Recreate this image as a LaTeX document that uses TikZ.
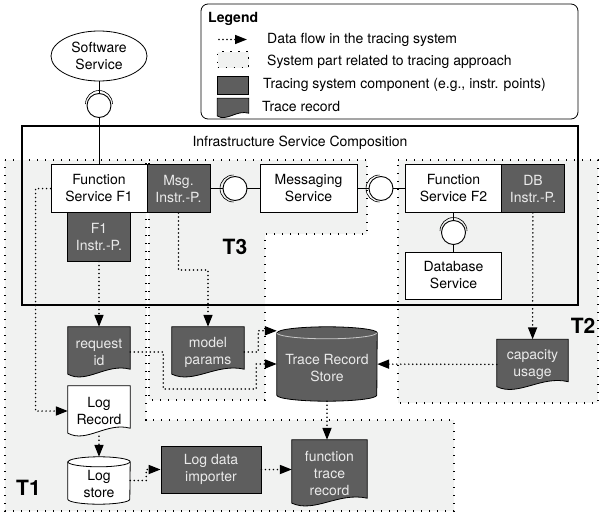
\documentclass[tikz,border=0pt]{standalone}
\usepackage{fontspec}
\setmainfont{TeX Gyre Heros}
\usetikzlibrary{arrows.meta,calc,shapes.geometric}
\pgfdeclarelayer{zones}
\pgfdeclarelayer{forms}
\pgfsetlayers{zones,forms,main}

\definecolor{recdark}{HTML}{5E5E5E}
\definecolor{reclight}{HTML}{EAEAEA}
\definecolor{rimline}{HTML}{C8C8C8}
\definecolor{zonefill}{HTML}{F1F2F1}

% document outline with a wavy lower edge around node #1
\newcommand\docform[3]{%
  \draw[#2] (#1.north west) -- (#1.north east) -- ($(#1.south east)+(0,-#3)$)
    .. controls ($(#1.south west)!0.62!(#1.south east)+(0,-1.8*#3)$)
    and ($(#1.south west)!0.3!(#1.south east)+(0,0.9*#3)$)
    .. ($(#1.south west)+(0,-0.38*#3)$) -- cycle;}

% upright cylinder around node #1: half width #2, end radius #3, rim colour #5
\newcommand\cylform[5]{%
  \draw[#4] ($(#1.north west)+(0,#3)$) -- ($(#1.south west)+(0,-#3)$)
    arc[start angle=180,end angle=360,x radius=#2pt,y radius=#3pt]
    -- ($(#1.north east)+(0,#3)$)
    arc[start angle=0,end angle=180,x radius=#2pt,y radius=#3pt] -- cycle;
  \draw[line width=0.8pt,draw=#5] ($(#1.north west)+(0,#3)$)
    arc[start angle=180,end angle=360,x radius=#2pt,y radius=#3pt];}

% socket half ring around a ball: node, start angle, offset direction
\newcommand\socketarc[3]{%
  \draw[socket] ([shift={(#3:1.5pt)}]#1.center) ++(#2:13.5pt)
    arc[start angle=#2,end angle=#2+180,radius=13.5pt];}

\tikzset{
  txt/.style={font=\fontsize{14}{17}\selectfont, align=center, inner sep=0pt},
  comp/.style={txt, draw, line width=0.8pt, fill=white},
  instr/.style={txt, draw, line width=0.8pt, fill=recdark, text=reclight},
  recfill/.style={draw=black, line width=0.8pt, fill=recdark},
  logfill/.style={draw=black, line width=0.8pt, fill=white},
  flow/.style={line width=1.7pt, line cap=round, dash pattern=on 0pt off 4pt,
    -{Triangle[length=12pt,width=9pt]}},
  zone/.style={fill=zonefill, draw=black, line width=1.4pt,
    dash pattern=on 1.4pt off 6.6pt},
  ball/.style={circle, draw, line width=0.9pt, fill=white,
    minimum size=24pt, inner sep=0pt},
  socket/.style={line width=0.6pt},
  wire/.style={line width=0.8pt},
  tag/.style={font=\fontsize{21}{21}\bfseries\selectfont, inner sep=0pt},
}

\begin{document}
\begin{tikzpicture}[x=1pt,y=-1pt]
\useasboundingbox (0,0) rectangle (600,514);

% tracing zones T1, T3, T2
\begin{pgfonlayer}{zones}
  \path[zone] (5,160) -- (146,160) -- (146,420) -- (454,420) -- (454,511)
    -- (5,511) -- cycle;
  \path[zone] (149,160) -- (367,160) -- (367,234) -- (265,234) -- (265,400)
    -- (149,400) -- cycle;
  \path[zone] (398,160) -- (598,160) -- (598,403) -- (398,403) -- cycle;
\end{pgfonlayer}

% legend
\node[draw, line width=0.8pt, rounded corners=7pt, minimum width=377pt,
  minimum height=115pt, inner sep=0pt] (legend) at (389.5,61.5) {};
\node[font=\fontsize{14}{17}\bfseries\selectfont, anchor=west, inner sep=0pt]
  (legtitle) at (208,19) {Legend};
\coordinate (lfa) at (219,39.5);
\coordinate (lfb) at (247,39.5);
\draw[flow] (lfa) -- (lfb);
\node[txt, anchor=west] (lflow) at (267,40) {Data flow in the tracing system};
\node[zone, minimum width=31pt, minimum height=16pt] (lzone) at (233,59.5) {};
\node[txt, anchor=west] (lzonet) at (267,62) {System part related to tracing approach};
\node[instr, minimum width=31pt, minimum height=18pt] (lcomp) at (233,85) {};
\node[txt, anchor=west] (lcompt) at (263,85) {Tracing system component (e.g., instr. points)};
\node[txt, minimum width=31pt, minimum height=19pt] (lrec) at (233,108) {};
\begin{pgfonlayer}{forms}\docform{lrec}{recfill}{4.5}\end{pgfonlayer}
\node[txt, anchor=west] (lrect) at (262,107) {Trace record};

% software service and infrastructure composition
\node[txt, ellipse, draw, line width=0.8pt, fill=white, minimum width=96pt,
  minimum height=50pt] (sw) at (99,56) {Software\\Service};
\begin{pgfonlayer}{forms}
  \draw[line width=2pt] (22,126) rectangle (578,305);
\end{pgfonlayer}
\node[txt] (infra) at (300,143) {Infrastructure Service Composition};

\node[comp, minimum width=96pt, minimum height=48pt] (f1) at (99,188.5) {Function\\Service F1};
\node[instr, minimum width=63pt, minimum height=49pt] (f1ip) at (99,236.5) {F1\\Instr.-P.};
\node[instr, minimum width=63pt, minimum height=48pt] (msgip) at (178.5,188.5) {Msg.\\Instr.-P.};
\node[comp, minimum width=97pt, minimum height=48pt] (msg) at (308.5,188.5) {Messaging\\Service};
\node[comp, minimum width=96pt, minimum height=48pt] (f2) at (453.5,188.5) {Function\\Service F2};
\node[instr, minimum width=63pt, minimum height=48pt] (dbip) at (533,188.5) {DB\\Instr.-P.};
\node[comp, minimum width=96pt, minimum height=47pt] (db) at (453.5,275.5) {Database\\Service};

% interfaces
\node[ball] (i1) at (99,105.5) {};
\node[ball] (i2) at (235,188.5) {};
\node[ball] (i3) at (381,188.5) {};
\node[ball] (i4) at (453.5,232.5) {};
\draw[wire] (sw) -- (i1);
\draw[wire] (i1) -- (f1);
\draw[wire] (msgip) -- (i2);
\draw[wire] (i2) -- (msg);
\draw[wire] (msg) -- (i3);
\draw[wire] (i3) -- (f2);
\draw[wire] (f2) -- (i4);
\draw[wire] (i4) -- (db);
\socketarc{i1}{0}{90}
\socketarc{i2}{90}{180}
\socketarc{i3}{90}{180}
\socketarc{i4}{0}{90}

% trace records and stores
\node[txt, text=reclight, minimum width=62pt, minimum height=50pt] (reqid) at (99,352) {request\\id};
\node[txt, minimum width=62pt, minimum height=50pt] (logrec) at (99,411) {Log\\Record};
\node[txt, minimum width=62pt, minimum height=47pt] (logstore) at (99,480.5) {};
\node[txt] (logstoretext) at (99,483.5) {Log\\store};
\node[instr, minimum width=100pt, minimum height=47pt] (importer) at (211,469.5) {Log data\\importer};
\node[txt, text=reclight, minimum width=75pt, minimum height=66pt] (ftr) at (329.5,473) {function\\trace\\record};
\node[txt, text=reclight, minimum width=72pt, minimum height=50pt] (model) at (208,352) {model\\params};
\node[txt, minimum width=100pt, minimum height=74pt] (trs) at (327,364) {};
\node[txt, text=reclight] (trstext) at (327,368.5) {Trace Record\\Store};
\node[txt, text=reclight, minimum width=71pt, minimum height=50pt] (cap) at (532.5,364.5) {capacity\\usage};
\begin{pgfonlayer}{forms}
  \docform{reqid}{recfill}{8}
  \docform{logrec}{logfill}{8}
  \docform{ftr}{recfill}{8}
  \docform{model}{recfill}{8}
  \docform{cap}{recfill}{8}
  \cylform{logstore}{31}{5}{logfill}{black}
  \cylform{trs}{50}{6}{recfill}{rimline}
\end{pgfonlayer}

% zone labels
\node[tag] (t3) at (235,247) {T3};
\node[tag] (t2) at (583,325.5) {T2};
\node[tag] (t1) at (28.5,488) {T1};

% data flows
\draw[flow] (f1ip) -- (reqid);
\draw[flow] (msgip.south) -- ++(0,57) -| (model.north);
\draw[flow] (f1.west) -- ++(-15,0) |- (logrec.west);
\draw[flow] (reqid.east) -- ++(33,0) -- ++(0,37) -- ++(93,0) |- (trs.west);
\draw[flow] (model.east) -- ++(14,0) |- ($(trs.north west)+(0,4)$);
\draw[flow] (dbip) -- (cap);
\draw[flow] (cap) -- (trs);
\draw[flow] (trs.south) -- (trs.south |- ftr.north);
\draw[flow] (logrec.south) -- (logstore.north);
\draw[flow] (logstore.east) -- ++(16,0) |- (importer.west);
\draw[flow] (importer.east) -- (importer.east -| ftr.west);
\end{tikzpicture}
\end{document}
